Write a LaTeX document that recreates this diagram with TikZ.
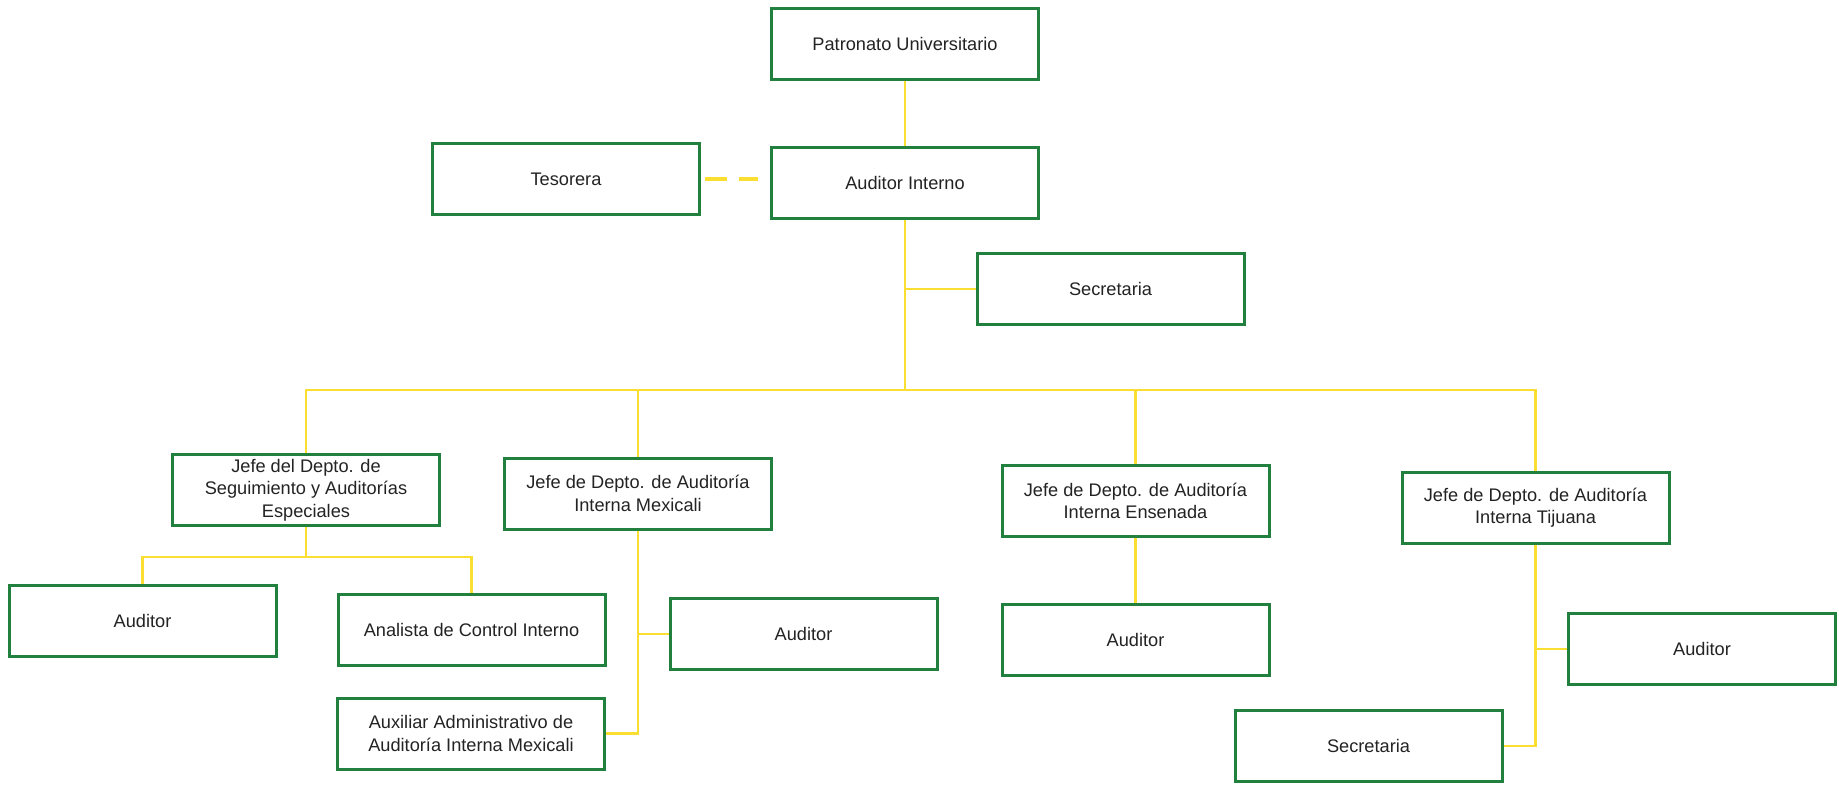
\documentclass[tikz,border=0pt]{standalone}
\usepackage{fontspec}
\setmainfont{Liberation Sans}
\definecolor{boxgreen}{RGB}{34,128,62}
\definecolor{lineyellow}{RGB}{250,222,50}
\definecolor{txt}{RGB}{35,35,35}
\begin{document}
\begin{tikzpicture}[x=0.5pt,y=-0.5pt,
  orgbox/.style={draw=boxgreen, line width=1.5pt, fill=white, minimum width=133.5pt, minimum height=35.5pt,
    inner sep=0pt, align=center, text=txt, font=\fontsize{9.1}{11.3}\selectfont},
  conn/.style={draw=lineyellow, line width=1.1pt},
  dashconn/.style={draw=lineyellow, line width=1.6pt, dash pattern=on 11pt off 6pt, shorten <=2pt, shorten >=6pt}]
\useasboundingbox (0,0) rectangle (1839,784);
\fill[white] (0,0) rectangle (1839,784);

\coordinate (bus) at (905,390);
\coordinate (sb) at (306,557);

% nodes
\node[orgbox] (pat) at (905,43.5) {Patronato Universitario};
\node[orgbox] (aud) at (905,182.5) {Auditor Interno};
\node[orgbox] (tes) at (566,179) {Tesorera};
\node[orgbox] (sec) at (1110.5,289) {Secretaria};
\node[orgbox] (jseg) at (306,490) {Jefe del Depto. de\\Seguimiento y Auditorías\\Especiales};
\node[orgbox] (jmex) at (638,493.5) {Jefe de Depto. de Auditoría\\Interna Mexicali};
\node[orgbox] (jens) at (1135.5,501) {Jefe de Depto. de Auditoría\\Interna Ensenada};
\node[orgbox] (jtij) at (1535.5,507.5) {Jefe de Depto. de Auditoría\\Interna Tijuana};
\node[orgbox] (audseg) at (142.5,621) {Auditor};
\node[orgbox] (anal) at (471.5,629.5) {Analista de Control Interno};
\node[orgbox] (aux) at (471,733.5) {Auxiliar Administrativo de\\Auditoría Interna Mexicali};
\node[orgbox] (audmex) at (803.5,634) {Auditor};
\node[orgbox] (audens) at (1135.5,640) {Auditor};
\node[orgbox] (audtij) at (1702,649) {Auditor};
\node[orgbox] (sectij) at (1368.5,746) {Secretaria};

% connectors
\draw[conn] (pat.south) -- (aud.north);
\draw[dashconn] (tes.east) -- (tes.east -| aud.west);
\draw[conn] (aud.south) -- (bus);
\draw[conn] (sec.west) -- (sec.west -| aud.south);
\draw[conn] (jseg.north) |- (bus) -| (jtij.north);
\draw[conn] (jmex.north) -- (jmex.north |- bus);
\draw[conn] (jens.north) -- (jens.north |- bus);
\draw[conn] (jseg.south) -- (sb);
\draw[conn] (audseg.north) |- (sb) -| (anal.north);
\draw[conn] (jmex.south) |- (aux.east);
\draw[conn] (audmex.west) -- (audmex.west -| jmex.south);
\draw[conn] (jens.south) -- (audens.north);
\draw[conn] (jtij.south) |- (sectij.east);
\draw[conn] (audtij.west) -- (audtij.west -| jtij.south);
\end{tikzpicture}
\end{document}
